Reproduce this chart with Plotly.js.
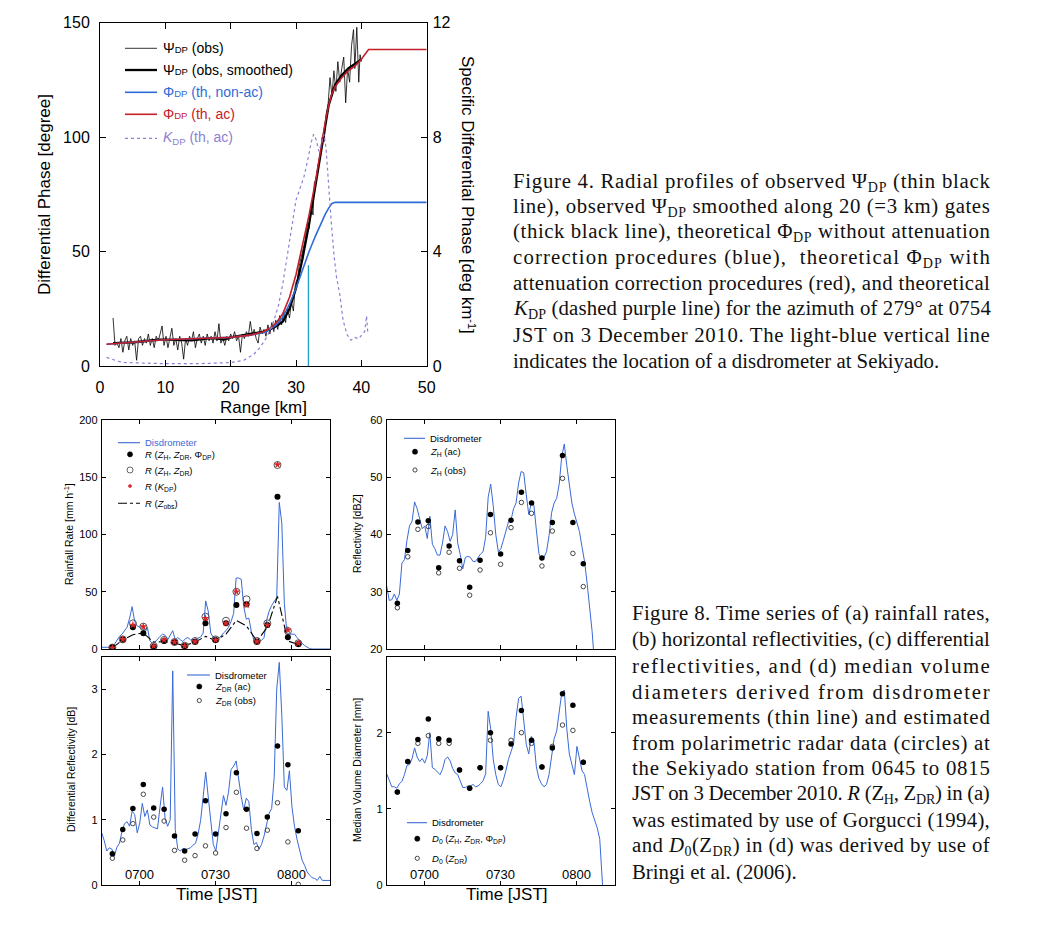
<!DOCTYPE html>
<html><head><meta charset="utf-8">
<script src="https://cdn.plot.ly/plotly-3.0.1.min.js"></script>
<style>html,body{margin:0;padding:0;background:#fff}#chart{width:1045px;height:934px}</style>
</head><body><div id="chart"></div>
<script>
// ---------------- Figure 4 data ----------------
const obsRange = [2.0,2.3,2.6,2.9,3.2,3.5,3.8,4.1,4.4,4.7,5.0,5.3,5.6,5.9,6.2,6.5,6.8,7.1,7.4,7.7,8.0,8.3,8.6,8.9,9.2,9.5,9.8,10.1,10.4,10.7,11.0,11.3,11.6,11.9,12.2,12.5,12.8,13.1,13.4,13.7,14.0,14.3,14.6,14.9,15.2,15.5,15.8,16.1,16.4,16.7,17.0,17.3,17.6,17.9,18.2,18.5,18.8,19.1,19.4,19.7,20.0,20.3,20.6,20.9,21.2,21.5,21.8,22.1,22.4,22.7,23.0,23.3,23.6,23.9,24.2,24.5,24.8,25.1,25.4,25.7,26.0,26.3,26.6,26.9,27.2,27.5,27.8,28.1,28.4,28.7,29.0,29.3,29.6,29.9,30.2,30.5,30.8,31.1,31.4,31.7,32.0,32.3,32.6,32.8,33.1,33.4,33.7,34.0,34.3,34.6,34.9,35.2,35.5,35.8,36.1,36.4,36.7,37.0,37.3,37.6,37.9,38.2,38.5,38.8,39.0,39.3,39.6,39.8,40.0];
const obsPhase = [21,9,10,8,12,6,11,13,7,12,9,11,2.5,12,13,9,12,10,14,9,12,8,13,11,14,17.5,9,13,8,12,16.5,9,12,7,13,10,3,12,9,13,11,15,8,12,14,10,13,9,14,11,13,10,15,11,18.5,10,12,9,13,11,14,12,15,11,13,6,14,12,15,13,19.5,14,16,12,10,17,14,16,13,18,14,19,15,20,16,22,18,24,19,25,21,28,24,36,38,44,48,52,55,62,60,70,66,80,82,88,92,100,98,110,114,126,118,129,120,133,124,130,135,115,130,124,140,147,130,148,124,136,133];
const smRange = [2,3,4,5,6,7,8,9,10,11,12,13,14,15,16,17,18,19,20,21,22,23,24,25,26,27,28,29,30,31,32,33,34,35,36,37,38,39,39.5,40];
const smPhase = [10,10,10,10.3,10.6,11,11.3,11.5,11.5,11.4,11.2,11,11.2,11.5,11.8,12.2,12,11.5,12.5,13,13.2,13.8,14.5,15,16,17.5,19.5,25,34,47,62,79,97,114,123,127,130,132,133,134];
const thRange = [1,5,10,15,20,23,25,26,27,28,29,30,31,32,33,34,34.5,35,35.5,36,37,38,39,40,41.1,50];
const thPhaseAc = [9.5,10.5,11.5,12,12.5,13.5,15,16.5,19,23,30,40,53,66,81,99,107,114,119,122,126,129,131,134,138.3,138.3];
const thPhaseNonAc = [9.5,10.5,11.5,12,12.5,13.5,14.5,16,18,21.5,27,34,42,50,57,63.5,66.5,69,71,71.5,71.5,71.5,71.5,71.5,71.5,71.5];
const kdpRange = [1,2,3,4,6,10,15,20,22,23.5,24.5,25.5,26.5,27.3,28,28.7,29.4,30,30.6,31.2,31.8,32.3,32.7,33.1,33.5,33.9,34.3,34.6,35,35.4,35.8,36.2,36.7,37.2,37.8,38.4,39,39.6,40.1,40.5,40.8,41];
const kdpValue = [0.3,0.22,0.15,0.12,0.1,0.08,0.08,0.12,0.2,0.4,0.65,1.0,1.5,2.1,2.9,3.9,4.9,5.8,6.2,6.6,7.2,7.8,8.1,7.9,7.5,7.8,8.1,7.6,6.2,5.0,3.9,3.1,2.5,1.6,1.1,0.9,1.0,0.95,1.1,1.2,1.75,1.1];
const sekiyadoRange = [31.9,31.9];
const sekiyadoPhase = [0,44];

// ---------------- Figure 8 data ----------------
const disdroMinute = [0,1,2,3,4,5,6,7,8,9,10,11,12,13,14,15,16,17,18,19,20,21,22,23,24,25,26,27,28,29,30,31,32,33,34,35,36,37,38,39,40,41,42,43,44,45,46,47,48,49,50,51,52,53,54,55,56,57,58,59,60,61,62,63,64,65,66,67,68,69,70,71,72,73,74,75,76,77,78,79,80,81,82,83,84,85,86,87,88,89,90];
const disdroRain = [1.5,1.5,1.5,1.2,1.5,4,8,11,13,16,19,27,37,24,20,19,19.5,14,19,7,5,6,9,11,13,12,8,12,16,8,10,8,6.5,9,10,8,8,8.5,9.5,10.5,14,42,33,14,10,8.5,9,11,14,16,19,24,31,62,62,61,37,26,27,15,8,7.5,7.5,7.5,10,25,33,38,41,45,128,110,40,14,13,13,13,10,7,5,3,1.5,0.3,0,0,0,0,0,0,0,0];
const disdroZh = [31,28.5,28.6,29.6,28.5,29.6,35,35.6,39,41.5,42.3,45.7,44.5,42.8,41,41.5,39.3,43.2,38.3,37.5,36.4,36.4,38.5,41.5,40.5,38.8,40,44.3,38.5,36.5,34,36,36.2,36,35.3,35.3,36,36.6,37,39.5,46.5,48.8,45,40,37,37.5,39,40.5,42.2,42.5,44.5,45.5,49,51,50.8,47,43.5,45.5,45.2,40.8,36.7,35.5,36,37,39.8,43.8,45.5,46.3,48.8,53.6,55.8,52,48.2,45.5,43.6,42,40.5,37.8,35.3,31.5,27.5,23,17,12,8,6,6,6,6,6,6];
const disdroZdr = [0.8,0.68,0.52,0.57,0.55,0.44,0.58,0.64,0.82,0.94,0.97,0.9,1.13,1.08,0.8,0.95,1.25,1.05,1.15,0.92,0.89,0.88,0.86,1.2,1.5,1.02,0.9,1.0,3.28,0.85,0.55,0.52,0.56,0.54,0.56,0.57,0.61,0.64,0.78,0.99,1.35,1.73,1.35,0.95,0.62,0.52,0.8,1.05,1.37,1.22,1.42,1.77,1.82,1.9,1.6,1.35,1.15,1.33,1.28,0.85,0.62,0.65,0.55,0.62,0.75,0.95,1.1,1.17,1.65,3.0,3.41,2.6,1.5,1.45,1.75,1.2,0.9,0.7,0.52,0.38,0.3,0.2,0.15,0.11,0.1,0.07,0.13,0.07,0.07,0.07,0.07];
const disdroD0 = [1.46,1.37,1.29,1.29,1.27,1.33,1.36,1.45,1.57,1.58,1.66,1.8,1.68,1.62,1.66,1.6,1.7,2.0,1.54,1.52,1.48,1.45,1.52,1.65,1.68,1.63,1.53,1.47,1.45,1.35,1.28,1.28,1.3,1.3,1.32,1.29,1.3,1.33,1.37,1.46,2.28,2.05,1.65,1.45,1.32,1.29,1.38,1.5,1.65,1.75,1.85,2.2,2.45,2.48,2.2,1.85,1.72,1.95,1.9,1.55,1.4,1.33,1.29,1.32,1.45,1.7,1.92,2.02,2.3,2.52,2.56,2.05,1.72,1.57,1.45,1.82,1.65,1.5,1.45,1.25,1.1,0.95,0.86,0.75,0.6,0.0,-0.5,-0.5,-0.5,-0.5,-0.5];
const radarMinute = [4.2,8.3,12.3,16.4,20.5,24.6,28.7,32.7,36.8,40.9,44.9,49.0,53.1,57.1,61.2,65.3,69.3,73.4,77.5];
const rainZhZdrKdp = [1.5,8.4,19,13.7,2,7,5.8,2.6,6.4,22.4,7.9,22.4,38.4,39,6.4,21,133,10.2,4.4];
const rainZhZdr = [1.2,8.4,22.4,19.5,2.6,7.9,6.1,2.9,7,28.2,8.4,24.7,50,43.4,7,22.4,160.7,15.7,5];
const rainKdp = [1,8.4,21,19.5,2.6,7.9,6,2.6,6.4,26.8,7.9,22.4,50,38.4,6.4,21,161,16.6,5];
const rainZobs = [1,8,12.5,14,6,6.5,5,3,6,11,7.5,13,25,20,7,19,46,7,4];
const zhAc = [28.0,37.2,42.2,42.4,34.2,38,35.4,30.8,35.5,43.5,36.6,42.5,47.4,45.5,35.9,42.1,53.8,42.1,34.9];
const zhObs = [27.2,36.1,40.9,41.4,33.3,36.9,34.1,29.4,33.8,40.3,34.8,41.2,45.6,43.7,34.5,40.6,49.8,36.7,30.9];
const zdrAc = [0.48,0.85,1.17,1.54,1.18,1.16,0.75,0.52,0.78,1.29,0.78,1.09,1.72,1.16,0.79,1.04,2.13,1.84,0.83];
const zdrObs = [0.41,0.69,0.94,1.39,1.04,0.98,0.53,0.38,0.45,0.6,0.49,0.88,1.42,0.87,0.56,0.84,1.26,0.66,0.01];
const d0Full = [1.22,1.62,1.91,2.18,1.92,1.9,1.51,1.27,1.54,2.0,1.54,1.85,2.29,1.9,1.55,1.8,2.51,2.36,1.61];
const d0Zdr = [1.22,1.62,1.86,1.96,1.86,1.86,1.51,1.27,1.54,1.9,1.54,1.9,2.0,1.86,1.55,1.82,2.1,2.03,1.61];
const timeTickVals = [15,45,75];
const timeTickText = ['0700','0730','0800'];

// ---------------- styling helpers ----------------
const W = 1045, H = 934;
const px = x => x / W;
const py = y => 1 - y / H;
const SANS = 'Liberation Sans, Arial, Helvetica, sans-serif';
const SERIF = 'Liberation Serif, Times New Roman, Times, serif';
const BLUE = '#2e6bd6', RED = '#c4202a', PURPLE = '#8c80d2', CYAN = '#1e9fc6', DBLUE = '#3a6ad6';
// sub/superscript as a sized, shifted span
const SB = (s, size, shift) => '<span style="font-size:' + size + 'px;baseline-shift:' + shift + 'px">' + s + '</span>';
const lsub = s => SB(s, 6.8, -2);      // legend subscripts (figure 8)
const csub = s => SB(s, 14, -4);       // caption subscripts

const data = [
  {x: kdpRange, y: kdpValue, xaxis:'x', yaxis:'y2', mode:'lines', line:{color:PURPLE, width:1.2, dash:'dot'}},
  {x: sekiyadoRange, y: sekiyadoPhase, xaxis:'x', yaxis:'y', mode:'lines', line:{color:CYAN, width:1.3}},
  {x: obsRange, y: obsPhase, xaxis:'x', yaxis:'y', mode:'lines', line:{color:'#000', width:0.8}},
  {x: smRange, y: smPhase, xaxis:'x', yaxis:'y', mode:'lines', line:{color:'#000', width:2.3}},
  {x: thRange, y: thPhaseNonAc, xaxis:'x', yaxis:'y', mode:'lines', line:{color:BLUE, width:1.6}},
  {x: thRange, y: thPhaseAc, xaxis:'x', yaxis:'y', mode:'lines', line:{color:RED, width:1.6}},
  // (a)
  {x: disdroMinute, y: disdroRain, xaxis:'x2', yaxis:'y3', mode:'lines', line:{color:DBLUE, width:1}},
  {x: radarMinute, y: rainZobs, xaxis:'x2', yaxis:'y3', mode:'lines', line:{color:'#000', width:1.1, dash:'dashdot'}},
  {x: radarMinute, y: rainZhZdr, xaxis:'x2', yaxis:'y3', mode:'markers', marker:{symbol:'circle-open', size:7, color:'#555', line:{width:1}}},
  {x: radarMinute, y: rainZhZdrKdp, xaxis:'x2', yaxis:'y3', mode:'markers', marker:{symbol:'circle', size:6, color:'#000'}},
  {x: radarMinute, y: rainKdp, xaxis:'x2', yaxis:'y3', mode:'markers', marker:{symbol:'star', size:6, color:'#d8262a', line:{width:0}}},
  // (b)
  {x: disdroMinute, y: disdroZh, xaxis:'x3', yaxis:'y4', mode:'lines', line:{color:DBLUE, width:1}},
  {x: radarMinute, y: zhObs, xaxis:'x3', yaxis:'y4', mode:'markers', marker:{symbol:'circle-open', size:4.5, color:'#333', line:{width:0.9}}},
  {x: radarMinute, y: zhAc, xaxis:'x3', yaxis:'y4', mode:'markers', marker:{symbol:'circle', size:5.5, color:'#000'}},
  // (c)
  {x: disdroMinute, y: disdroZdr, xaxis:'x4', yaxis:'y5', mode:'lines', line:{color:DBLUE, width:1}},
  {x: radarMinute, y: zdrObs, xaxis:'x4', yaxis:'y5', mode:'markers', marker:{symbol:'circle-open', size:4.5, color:'#333', line:{width:0.9}}},
  {x: radarMinute, y: zdrAc, xaxis:'x4', yaxis:'y5', mode:'markers', marker:{symbol:'circle', size:5.5, color:'#000'}},
  // (d)
  {x: disdroMinute, y: disdroD0, xaxis:'x5', yaxis:'y6', mode:'lines', line:{color:DBLUE, width:1}},
  {x: radarMinute, y: d0Zdr, xaxis:'x5', yaxis:'y6', mode:'markers', marker:{symbol:'circle-open', size:4.5, color:'#333', line:{width:0.9}}},
  {x: radarMinute, y: d0Full, xaxis:'x5', yaxis:'y6', mode:'markers', marker:{symbol:'circle', size:5.5, color:'#000'}}
];
data.forEach(t => { t.showlegend = false; t.hoverinfo = 'skip'; t.cliponaxis = true; });

const axBase = {showline:true, linecolor:'#000', linewidth:1, showgrid:false, zeroline:false, ticks:'inside', tickcolor:'#000', tickwidth:1};
function bx(domain, anchor) {
  return Object.assign({}, axBase, {domain:domain, anchor:anchor, range:[0,90], tickmode:'array', tickvals:timeTickVals, ticktext:timeTickText,
    ticklen:4, mirror:'ticks', showticklabels:false});
}
function by(domain, anchor, range, vals) {
  return Object.assign({}, axBase, {domain:domain, anchor:anchor, range:range, tickmode:'array', tickvals:vals,
    ticklen:4, mirror:'ticks', tickfont:{family:SANS, size:11, color:'#000'}, ticklabelstandoff:1});
}
const dxL = [px(101.7), px(330)], dxR = [px(386.7), px(615)];
const dyT = [py(649), py(420)], dyB = [py(885), py(656.5)];

const layout = {
  width:W, height:H, autosize:false, margin:{l:0,r:0,t:0,b:0}, paper_bgcolor:'#fff', plot_bgcolor:'#fff', showlegend:false,
  font:{family:SANS, color:'#000'},
  xaxis: Object.assign({}, axBase, {domain:[px(100), px(426.7)], anchor:'y', range:[0,50], tickmode:'array', tickvals:[0,10,20,30,40,50],
    ticklen:6, mirror:'ticks', tickfont:{family:SANS, size:16, color:'#000'}, ticklabelstandoff:7}),
  yaxis: Object.assign({}, axBase, {domain:[py(366), py(22.7)], anchor:'x', range:[0,150], tickmode:'array', tickvals:[0,50,100,150],
    ticklen:6, mirror:true, tickfont:{family:SANS, size:16, color:'#000'}, ticklabelstandoff:6}),
  yaxis2: Object.assign({}, axBase, {overlaying:'y', side:'right', anchor:'x', range:[0,12], tickmode:'array', tickvals:[0,4,8,12],
    ticklen:6, showline:false, tickfont:{family:SANS, size:16, color:'#000'}, ticklabelstandoff:5}),
  xaxis2: bx(dxL, 'y3'),
  yaxis3: by(dyT, 'x2', [0,200], [0,50,100,150,200]),
  xaxis3: bx(dxR, 'y4'),
  yaxis4: by(dyT, 'x3', [20,60], [20,30,40,50,60]),
  xaxis4: bx(dxL, 'y5'),
  yaxis5: by(dyB, 'x4', [0,3.5], [0,1,2,3]),
  xaxis5: bx(dxR, 'y6'),
  yaxis6: by(dyB, 'x5', [0,3], [0,1,2]),
  annotations: [],
  shapes: []
};

function ann(text, x, y, opts) {
  layout.annotations.push(Object.assign({text:text, xref:'paper', yref:'paper', x:px(x), y:py(y), showarrow:false,
    xanchor:'center', yanchor:'middle', font:{family:SANS, size:17, color:'#000'}}, opts || {}));
  return layout.annotations.length - 1;
}
function legLine(x0, x1, y, color, width, dash) {
  layout.shapes.push({type:'line', xref:'paper', yref:'paper', x0:px(x0), x1:px(x1), y0:py(y), y1:py(y), line:{color:color, width:width, dash:dash || 'solid'}});
}
function legDot(x, y, r, fill, lineColor, lw) {
  layout.shapes.push({type:'circle', xref:'paper', yref:'paper', xsizemode:'pixel', ysizemode:'pixel', xanchor:px(x), yanchor:py(y),
    x0:-r, x1:r, y0:-r, y1:r, fillcolor:fill, line:{color:lineColor, width:lw}});
}

// Time tick labels drawn inside the lower panels, placed through the time axes
['x4','x5'].forEach(xr => {
  timeTickVals.forEach((v, i) => {
    layout.annotations.push({text:timeTickText[i], xref:xr, yref:'paper', x:v, y:py(874.3), showarrow:false,
      xanchor:'center', yanchor:'middle', font:{family:SANS, size:13, color:'#000'}});
  });
});

// Axis titles
ann('Differential Phase [degree]', 44, 195, {textangle:-90});
ann('Specific Differential Phase [deg km' + SB('-1', 11, 6) + ']', 468, 195, {textangle:90});
ann('Range [km]', 263, 408);
const TF = {family:SANS, size:10.5, color:'#000'};
ann('Rainfall Rate [mm h' + SB('-1', 7.5, 4) + ']', 68, 534, {textangle:-90, font:TF});
ann('Reflectivity [dBZ]', 357, 534, {textangle:-90, font:TF});
ann('Differential Reflectivity [dB]', 71, 770, {textangle:-90, font:TF});
ann('Median Volume Diameter [mm]', 357, 770, {textangle:-90, font:TF});
ann('Time [JST]', 217, 894);
ann('Time [JST]', 507, 894);

// Figure 4 legend
const sm = s => '<span style="font-size:9.5px">' + s + '</span>';
const topLeg = [
  ['Ψ' + sm('DP') + ' (obs)', '#000', 48.3, 0.8, 'solid'],
  ['Ψ' + sm('DP') + ' (obs, smoothed)', '#000', 70, 2.3, 'solid'],
  ['Φ' + sm('DP') + ' (th, non-ac)', BLUE, 92.3, 1.6, 'solid'],
  ['Φ' + sm('DP') + ' (th, ac)', RED, 114.3, 1.6, 'solid'],
  ['<i>K</i>' + SB('DP', 9.5, -3) + ' (th, ac)', PURPLE, 138.3, 1.2, 'dot']
];
topLeg.forEach(r => {
  legLine(125, 157, r[2], r[1], r[3], r[4]);
  ann(r[0], 161, r[2], {xanchor:'left', font:{family:SANS, size:14, color:r[1]}});
});

// Figure 8 legends
const LF = {family:SANS, size:9.5, color:'#000'};
// (a)
legLine(118, 140, 442.7, DBLUE, 1.1);
ann('Disdrometer', 143, 442.7, {xanchor:'left', font:{family:SANS, size:9.5, color:DBLUE}});
legDot(130, 454.3, 2.6, '#000', '#000', 0.5);
ann('<i>R</i> (<i>Z</i>' + lsub('H') + ', <i>Z</i>' + lsub('DR') + ', Φ' + lsub('DP') + ')', 143, 455, {xanchor:'left', font:LF});
legDot(130, 470, 3, 'rgba(0,0,0,0)', '#555', 0.9);
ann('<i>R</i> (<i>Z</i>' + lsub('H') + ', <i>Z</i>' + lsub('DR') + ')', 143, 470.7, {xanchor:'left', font:LF});
legDot(130, 486, 1.6, '#d8262a', '#d8262a', 0.5);
ann('<i>R</i> (<i>K</i>' + lsub('DP') + ')', 143, 486.7, {xanchor:'left', font:LF});
legLine(118, 140, 503.3, '#000', 1.1, 'dashdot');
ann('<i>R</i> (<i>Z</i>' + lsub('obs') + ')', 143, 504, {xanchor:'left', font:LF});
// (b)
legLine(404, 425, 438.3, DBLUE, 1.1);
ann('Disdrometer', 428, 438.3, {xanchor:'left', font:LF});
legDot(415, 451.7, 2.6, '#000', '#000', 0.5);
ann('<i>Z</i>' + lsub('H') + ' (ac)', 428, 452.4, {xanchor:'left', font:LF});
legDot(415, 470, 2.1, 'rgba(0,0,0,0)', '#333', 0.9);
ann('<i>Z</i>' + lsub('H') + ' (obs)', 428, 470.7, {xanchor:'left', font:LF});
// (c)
legLine(187, 210, 675, DBLUE, 1.1);
ann('Disdrometer', 212.5, 675, {xanchor:'left', font:LF});
legDot(199.3, 686.5, 2.6, '#000', '#000', 0.5);
ann('<i>Z</i>' + lsub('DR') + ' (ac)', 212.5, 687.2, {xanchor:'left', font:LF});
legDot(199.3, 700.5, 2.1, 'rgba(0,0,0,0)', '#333', 0.9);
ann('<i>Z</i>' + lsub('DR') + ' (obs)', 212.5, 701.2, {xanchor:'left', font:LF});
// (d)
legLine(407, 427, 822.7, DBLUE, 1.1);
ann('Disdrometer', 430, 822.7, {xanchor:'left', font:LF});
legDot(417.3, 838.7, 2.6, '#000', '#000', 0.5);
ann('<i>D</i>' + lsub('0') + ' (<i>Z</i>' + lsub('H') + ', <i>Z</i>' + lsub('DR') + ', Φ' + lsub('DP') + ')', 430, 839.4, {xanchor:'left', font:LF});
legDot(417.3, 858.3, 2.1, 'rgba(0,0,0,0)', '#333', 0.9);
ann('<i>D</i>' + lsub('0') + ' (<i>Z</i>' + lsub('DR') + ')', 430, 859, {xanchor:'left', font:LF});

// Captions
const justify = {};
const CF = {family:SERIF, size:20.8, color:'#111'};
const cap4 = [
  'Figure 4. Radial profiles of observed Ψ' + csub('DP') + ' (thin black',
  'line), observed Ψ' + csub('DP') + ' smoothed along 20 (=3 km) gates',
  '(thick black line), theoretical Φ' + csub('DP') + ' without attenuation',
  'correction procedures (blue),  theoretical Φ' + csub('DP') + ' with',
  'attenuation correction procedures (red), and theoretical',
  '<i>K</i>' + csub('DP') + ' (dashed purple line) for the azimuth of 279° at 0754',
  'JST on 3 December 2010. The light-blue vertical line',
  'indicates the location of a disdrometer at Sekiyado.'
];
const cap4Y = [181.7, 206.7, 232, 258, 283.5, 309.5, 335, 361];
cap4.forEach((t, i) => {
  const idx = ann(t, 510.5, cap4Y[i], {xanchor:'left', align:'left', font:CF});
  if (i < cap4.length - 1) justify[idx] = 988.3 - 511.5;
});
const cap8 = [
  'Figure 8. Time series of (a) rainfall rates,',
  '(b) horizontal reflectivities, (c) differential',
  'reflectivities, and (d) median volume',
  'diameters derived from disdrometer',
  'measurements (thin line) and estimated',
  'from polarimetric radar data (circles) at',
  'the Sekiyado station from 0645 to 0815',
  'JST on 3 December 2010. <i>R</i> (Z' + csub('H') + ', Z' + csub('DR') + ') in (a)',
  'was estimated by use of Gorgucci (1994),',
  'and <i>D</i>' + csub('0') + '(Z' + csub('DR') + ') in (d) was derived by use of',
  'Bringi et al. (2006).'
];
const cap8Y = [613.3, 639.3, 665.5, 691.5, 716.8, 742.7, 768.3, 794, 820, 846, 871.7];
cap8.forEach((t, i) => {
  const idx = ann(t, 629.5, cap8Y[i], {xanchor:'left', align:'left', font:CF});
  if (i < cap8.length - 1) justify[idx] = 988.3 - 630.5;
});

Plotly.newPlot('chart', data, layout, {staticPlot:true, displayModeBar:false}).then(gd => {
  gd.querySelectorAll('.annotation').forEach(g => {
    const idx = +g.getAttribute('data-index');
    if (justify[idx] !== undefined) {
      const t = g.querySelector('text.annotation-text');
      if (t) { t.setAttribute('textLength', justify[idx]); t.setAttribute('lengthAdjust', 'spacing'); }
    }
  });
});
</script></body></html>
